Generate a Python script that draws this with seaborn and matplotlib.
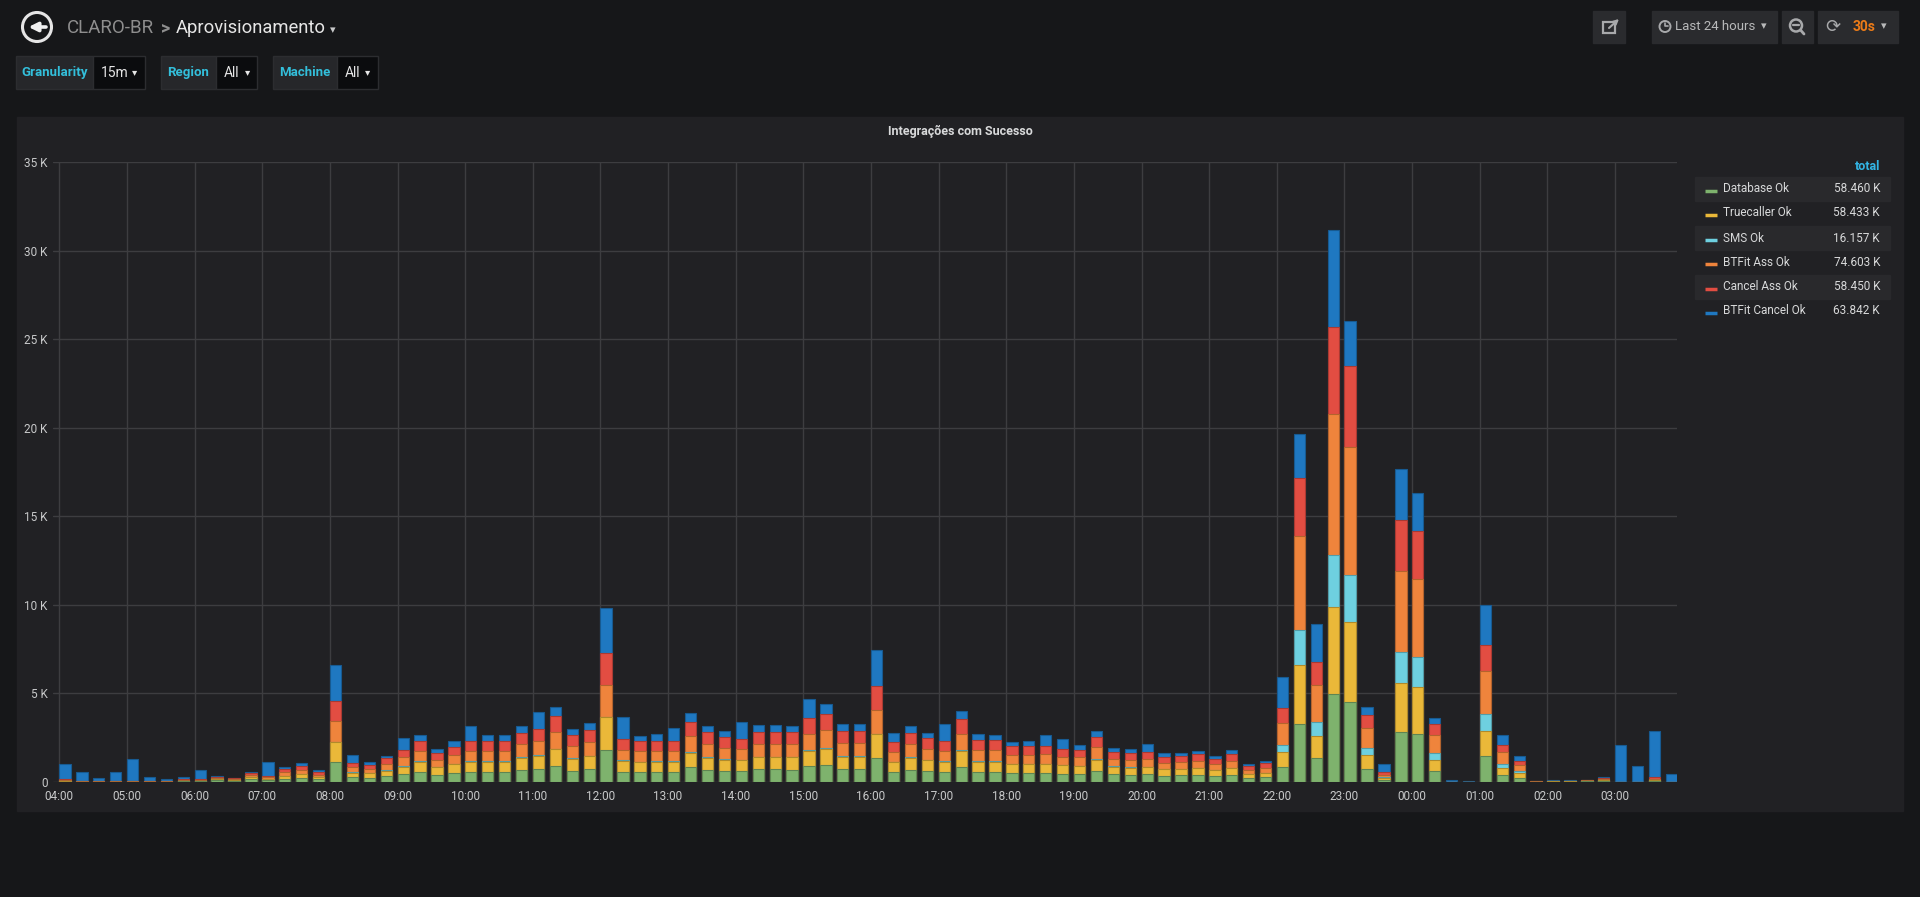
import numpy as np
import pandas as pd
import matplotlib
matplotlib.use("Agg")
import matplotlib.pyplot as plt
import matplotlib.colors as mcolors
import seaborn as sns
from matplotlib.patches import Rectangle, Circle

sns.set_theme(style="dark")
plt.rcParams['font.family'] = ['Roboto', 'DejaVu Sans']

# ---------------- data ----------------
slot_labels = [f"{(4 + i // 4) % 24:02d}:{(i % 4) * 15:02d}" for i in range(96)]
hour_ticks = ["04:00", "05:00", "06:00", "07:00", "08:00", "09:00", "10:00", "11:00",
              "12:00", "13:00", "14:00", "15:00", "16:00", "17:00", "18:00", "19:00",
              "20:00", "21:00", "22:00", "23:00", "00:00", "01:00", "02:00", "03:00"]

series_names = ["Database Ok", "Truecaller Ok", "SMS Ok", "BTFit Ass Ok", "Cancel Ass Ok", "BTFit Cancel Ok"]
series_colors = ["#7EB26D", "#EAB839", "#6ED0E0", "#EF843C", "#E24D42", "#1F78C1"]
series_totals = ["58.460 K", "58.433 K", "16.157 K", "74.603 K", "58.450 K", "63.842 K"]

database_ok = [10, 0, 0, 0, 0, 0, 0, 28, 22, 75, 43, 151, 94, 170, 208, 151,
               1113, 245, 226, 302, 434, 528, 396, 472, 547, 547, 528, 660, 698, 887, 623, 698,
               1793, 566, 528, 566, 547, 811, 660, 604, 604, 698, 698, 679, 868, 925, 698, 698,
               1321, 528, 660, 585, 566, 849, 566, 566, 491, 472, 491, 453, 434, 585, 415, 377,
               415, 340, 358, 377, 302, 377, 226, 245, 811, 3278, 1315, 4949, 4531, 731, 104, 2798,
               2673, 620, 0, 0, 1429, 376, 226, 0, 10, 10, 20, 56, 0, 0, 56, 0]
truecaller_ok = [10, 0, 0, 0, 0, 0, 0, 25, 20, 57, 50, 113, 57, 170, 208, 132,
                 1132, 264, 245, 321, 415, 585, 415, 509, 566, 566, 585, 698, 774, 944, 679, 736,
                 1849, 604, 566, 566, 566, 830, 698, 623, 604, 679, 679, 698, 887, 944, 717, 717,
                 1359, 566, 698, 623, 566, 906, 566, 566, 491, 509, 509, 472, 434, 642, 434, 415,
                 396, 358, 340, 377, 340, 377, 226, 264, 849, 3320, 1295, 4928, 4510, 773, 125, 2798,
                 2694, 620, 0, 0, 1429, 395, 244, 0, 10, 10, 20, 38, 0, 0, 38, 0]
sms_ok = [0, 0, 0, 0, 0, 0, 0, 0, 0, 0, 0, 0, 0, 0, 0, 0,
          20, 20, 20, 20, 20, 30, 20, 30, 30, 30, 30, 30, 30, 30, 30, 40,
          30, 30, 30, 30, 30, 40, 30, 30, 30, 30, 30, 30, 40, 40, 30, 30,
          30, 30, 30, 30, 30, 40, 30, 30, 20, 20, 20, 20, 20, 30, 20, 20,
          20, 20, 20, 20, 20, 20, 10, 10, 396, 1984, 752, 2944, 2652, 376, 20, 1754,
          1691, 395, 0, 0, 978, 244, 113, 0, 0, 0, 0, 0, 0, 0, 0, 0]
btfit_ass_ok = [70, 40, 26, 28, 32, 30, 25, 50, 50, 75, 38, 113, 94, 226, 245, 113,
                1151, 283, 208, 340, 509, 566, 377, 491, 585, 585, 585, 717, 774, 944, 679, 755,
                1793, 604, 585, 566, 585, 906, 736, 642, 623, 717, 717, 717, 925, 1000, 736, 736,
                1340, 566, 736, 623, 566, 906, 623, 623, 491, 491, 528, 434, 509, 679, 434, 396,
                434, 340, 377, 377, 321, 415, 208, 283, 1245, 5304, 2088, 7934, 7245, 1169, 146, 4552,
                4385, 1015, 10, 5, 2425, 658, 376, 20, 20, 20, 30, 38, 0, 0, 56, 0]
cancel_ass_ok = [40, 17, 0, 0, 0, 15, 15, 30, 40, 75, 57, 94, 75, 151, 245, 151,
                 1132, 226, 245, 340, 396, 566, 396, 453, 547, 547, 547, 660, 717, 906, 642, 698,
                 1812, 585, 566, 566, 547, 792, 660, 623, 566, 698, 698, 660, 868, 906, 679, 698,
                 1340, 547, 642, 604, 566, 849, 566, 566, 509, 528, 491, 453, 415, 604, 396, 396,
                 396, 358, 358, 415, 302, 396, 245, 264, 849, 3299, 1315, 4928, 4531, 731, 125, 2861,
                 2714, 620, 0, 0, 1448, 376, 226, 0, 10, 10, 20, 56, 0, 0, 94, 0]
btfit_cancel_ok = [850, 470, 200, 500, 1270, 200, 130, 150, 510, 57, 38, 57, 811, 94, 132, 94,
                   2019, 453, 151, 151, 717, 377, 264, 321, 849, 340, 340, 396, 962, 491, 340, 396,
                   2547, 1283, 283, 377, 736, 509, 358, 321, 962, 396, 396, 340, 1113, 566, 415, 358,
                   2038, 491, 396, 302, 944, 434, 321, 264, 226, 283, 623, 604, 245, 340, 189, 226,
                   491, 189, 170, 170, 170, 208, 94, 94, 1793, 2485, 2151, 5471, 2589, 438, 480, 2881,
                   2151, 357, 65, 35, 2256, 583, 263, 0, 25, 25, 10, 56, 2049, 902, 2613, 432]

series_values = [database_ok, truecaller_ok, sms_ok, btfit_ass_ok, cancel_ass_ok, btfit_cancel_ok]

slot_hours = np.arange(len(slot_labels)) * 0.25          # time since 04:00, in hours
bar_frac = 0.67
x_pos = slot_hours + bar_frac * 0.25 / 2                  # bars start at their timestamp

df = pd.DataFrame({name: vals for name, vals in zip(series_names, series_values)})
df["x"] = x_pos
cum = df[series_names].cumsum(axis=1)

# ---------------- figure ----------------
W, H = 1920, 897
fig = plt.figure(figsize=(W / 100, H / 100), dpi=100, facecolor="#161719")
bg = fig.add_axes([0, 0, 1, 1])
bg.set_xlim(0, W)
bg.set_ylim(H, 0)
bg.axis("off")

# panel
bg.add_patch(Rectangle((17, 117), 1886, 694, color="#212124", zorder=0))
bg.text(960, 131, "Integrações com Sucesso", ha="center", va="center",
        color="#d8d9da", fontsize=9, fontweight="bold")

# header: back button and breadcrumb
bg.add_patch(Circle((37, 27), 14.5, fill=False, ec="#e6e6e6", lw=2.2))
bg.annotate("", xy=(28.5, 27), xytext=(46, 27),
            arrowprops=dict(arrowstyle="-|>", lw=2.6, color="#f0f0f0", mutation_scale=13,
                            shrinkA=0, shrinkB=0))
bg.text(67, 28, "CLARO-BR", ha="left", va="center", color="#8e8e8e", fontsize=13.5)
bg.text(161, 28, ">", ha="left", va="center", color="#8e8e8e", fontsize=13, fontweight="bold")
bg.text(176, 28, "Aprovisionamento", ha="left", va="center", color="#e6e6e6", fontsize=13.2)
bg.text(333, 30, "▾", ha="center", va="center", color="#c8c9ca", fontsize=8)

# template variables
var_boxes = [("Granularity", 16, 92.7, 145, "15m"),
             ("Region", 161, 216, 257.3, "All"),
             ("Machine", 273, 337, 378, "All")]
for label, x0, x1, x2, val in var_boxes:
    bg.add_patch(Rectangle((x0, 56), x1 - x0, 33, color="#26272a", ec="#2c2d30", lw=1))
    bg.add_patch(Rectangle((x1, 56), x2 - x1, 33, color="#0b0c0e", ec="#2c2d30", lw=1))
    bg.text((x0 + x1) / 2, 72.5, label, ha="center", va="center", color="#33bfdb",
            fontsize=9.5, fontweight="bold")
    bg.text(x1 + 8, 73, val, ha="left", va="center", color="#e6e6e6", fontsize=10)
    bg.text(x2 - 10, 72, "▾", ha="center", va="center", color="#e6e6e6", fontsize=7.5)

# right header buttons
btn_col = "#2a2b2e"
for x0, x1 in [(1593, 1625), (1652, 1777), (1782, 1813), (1818, 1898)]:
    bg.add_patch(Rectangle((x0, 11), x1 - x0, 32, color=btn_col))
bg.add_patch(Rectangle((1603, 22), 12, 11, fill=False, ec="#a8a9ab", lw=1.6))
bg.annotate("", xy=(1619, 19), xytext=(1609, 28),
            arrowprops=dict(arrowstyle="-|>", lw=1.5, color="#a8a9ab", mutation_scale=7,
                            shrinkA=0, shrinkB=0))
bg.add_patch(Circle((1665, 26.5), 5.5, fill=False, ec="#a8a9ab", lw=1.4))
bg.plot([1665, 1665, 1668], [23, 26.5, 26.5], color="#a8a9ab", lw=1.2)
bg.text(1675, 27, "Last 24 hours", ha="left", va="center", color="#b8b9ba", fontsize=9.5)
bg.text(1764, 26, "▾", ha="center", va="center", color="#b8b9ba", fontsize=8)
bg.add_patch(Circle((1796, 25.5), 6, fill=False, ec="#a8a9ab", lw=1.8))
bg.plot([1793, 1799], [25.5, 25.5], color="#a8a9ab", lw=1.6)
bg.plot([1800.5, 1804], [30, 34], color="#a8a9ab", lw=2)
bg.text(1833, 27, "⟳", ha="center", va="center", color="#a8a9ab", fontsize=13,
        family=["DejaVu Sans"])
bg.text(1853, 27, "30s", ha="left", va="center", color="#eb7b18", fontsize=10, fontweight="bold")
bg.text(1884, 26, "▾", ha="center", va="center", color="#b8b9ba", fontsize=8)

# legend (table on the right)
bg.text(1880, 166, "total", ha="right", va="center", color="#33b5e5", fontsize=9, fontweight="bold")
row_tops = [177, 201, 226, 250, 275, 299]
for i, (name, col, tot) in enumerate(zip(series_names, series_colors, series_totals)):
    y0 = row_tops[i]
    yc = y0 + 12
    if i % 2 == 0:
        bg.add_patch(Rectangle((1695, y0), 195, 24, color="#29292c"))
    bg.plot([1705, 1717], [yc + 2, yc + 2], color=col, lw=2.5, solid_capstyle="butt")
    bg.text(1723, yc, name, ha="left", va="center", color="#d8d9da", fontsize=8.5)
    bg.text(1880, yc, tot, ha="right", va="center", color="#d8d9da", fontsize=8.5)

# ---------------- chart ----------------
x_left, x_right, y_top, y_bot = 53.3, 1676.7, 162.3, 781.7
ax = fig.add_axes([x_left / W, (H - y_bot) / H, (x_right - x_left) / W, (y_bot - y_top) / H])
ax.set_facecolor("#212124")

for k in range(len(series_names) - 1, -1, -1):
    col = series_colors[k]
    edge = tuple(c * 0.75 for c in mcolors.to_rgb(col))
    sns.barplot(x=df["x"], y=cum[series_names[k]], native_scale=True, width=bar_frac,
                color=col, saturation=1, edgecolor=edge, linewidth=0.8,
                errorbar=None, ax=ax, zorder=3)

ax.set_xlim(-6.0 / 67.64, (x_right - 59.3) / 67.64)
ax.set_ylim(0, 35000)
ax.set_xticks(np.arange(len(hour_ticks)))
ax.set_xticklabels(hour_ticks)
yt = np.arange(0, 35001, 5000)
ax.set_yticks(yt)
ax.set_yticklabels(["0"] + [f"{int(v / 1000)} K" for v in yt[1:]])
ax.set_xlabel("")
ax.set_ylabel("")
ax.grid(True, color="#3d3d40", lw=1)
ax.set_axisbelow(True)
for s in ax.spines.values():
    s.set_visible(False)
ax.tick_params(axis="both", length=0, colors="#c8c9ca", labelsize=8.5)
ax.tick_params(axis="x", pad=6)
ax.tick_params(axis="y", pad=4)

fig.savefig("out.png", dpi=100, facecolor=fig.get_facecolor())
